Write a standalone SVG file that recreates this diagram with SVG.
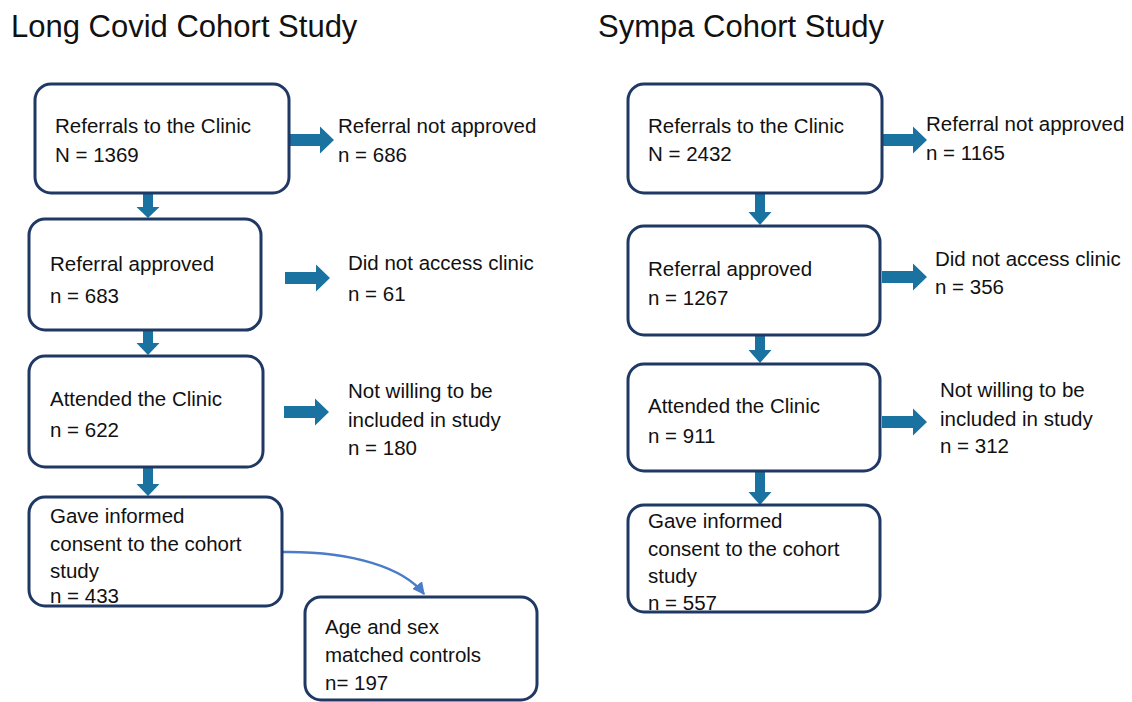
<svg xmlns="http://www.w3.org/2000/svg" xmlns:xlink="http://www.w3.org/1999/xlink" width="1132" height="702" viewBox="0 0 1132 702">
<style>
.box{fill:#fff;stroke:#1f3864;stroke-width:3}
.t{font-family:"Liberation Sans",Arial,sans-serif;font-size:20.5px;fill:#111}
.title{font-family:"Liberation Sans",Arial,sans-serif;font-size:31px;fill:#111}
.arr{fill:#19729f}
.curve{fill:none;stroke:#4a7cc8;stroke-width:2.5}
</style>
<defs>
<path id="ra" class="arr" d="M0,-6 H31 V-13.5 L45,0 L31,13.5 V6 H0 Z"/>
<marker id="mh" viewBox="0 0 10 10" refX="9" refY="5" markerWidth="5" markerHeight="5" orient="auto" markerUnits="strokeWidth">
<path d="M0,0 L10,5 L0,10 Z" fill="#4a7cc8"/>
</marker>
</defs>
<text class="title" x="11" y="37">Long Covid Cohort Study</text>
<text class="title" x="598" y="37">Sympa Cohort Study</text>
<g id="connectors">
<use href="#ra" x="289" y="140"/>
<use href="#ra" x="285" y="278"/>
<use href="#ra" x="284" y="412"/>
<use href="#ra" x="882" y="140"/>
<use href="#ra" x="882" y="277"/>
<use href="#ra" x="882" y="422"/>
<path class="arr" d="M143,194 V207 H136.5 L148,218 L159.5,207 H153 V194 Z"/>
<path class="arr" d="M143,331 V343 H136.5 L148,355 L159.5,343 H153 V331 Z"/>
<path class="arr" d="M143,468 V484 H136.5 L148,496 L159.5,484 H153 V468 Z"/>
<path class="arr" d="M755,194 V212 H748.5 L760,225 L771.5,212 H765 V194 Z"/>
<path class="arr" d="M755,336 V350 H748.5 L760,363 L771.5,350 H765 V336 Z"/>
<path class="arr" d="M755,471 V492 H748.5 L760,505 L771.5,492 H765 V471 Z"/>
<path class="curve" d="M283,552 C352,551 404,568 424,594" marker-end="url(#mh)"/>
</g>
<g id="l1"><rect class="box" x="35" y="84" width="254" height="109" rx="16"/>
<text class="t" x="55" y="133">Referrals to the Clinic</text><text class="t" x="55" y="162">N = 1369</text></g>
<g id="l1x"><text class="t" x="338" y="133">Referral not approved</text><text class="t" x="338" y="162">n = 686</text></g>
<g id="l2"><rect class="box" x="29" y="219" width="232" height="111" rx="16"/>
<text class="t" x="50" y="271">Referral approved</text><text class="t" x="50" y="303">n = 683</text></g>
<g id="l2x"><text class="t" x="348" y="270">Did not access clinic</text><text class="t" x="348" y="301">n = 61</text></g>
<g id="l3"><rect class="box" x="29" y="356" width="234" height="111" rx="16"/>
<text class="t" x="50" y="406">Attended the Clinic</text><text class="t" x="50" y="437">n = 622</text></g>
<g id="l3x"><text class="t" x="348" y="398">Not willing to be</text><text class="t" x="348" y="427">included in study</text><text class="t" x="348" y="455">n = 180</text></g>
<g id="l4"><rect class="box" x="29" y="497" width="253" height="109" rx="16"/>
<text class="t" x="50" y="523">Gave informed</text><text class="t" x="50" y="551">consent to the cohort</text><text class="t" x="50" y="578">study</text><text class="t" x="50" y="603">n = 433</text></g>
<g id="l5"><rect class="box" x="305" y="597" width="232" height="103" rx="16"/>
<text class="t" x="325" y="634">Age and sex</text><text class="t" x="325" y="662">matched controls</text><text class="t" x="325" y="690">n= 197</text></g>
<g id="r1"><rect class="box" x="628" y="84" width="254" height="109" rx="16"/>
<text class="t" x="648" y="133">Referrals to the Clinic</text><text class="t" x="648" y="161">N = 2432</text></g>
<g id="r1x"><text class="t" x="926" y="131">Referral not approved</text><text class="t" x="926" y="160">n = 1165</text></g>
<g id="r2"><rect class="box" x="628" y="226" width="252" height="109" rx="16"/>
<text class="t" x="648" y="276">Referral approved</text><text class="t" x="648" y="305">n = 1267</text></g>
<g id="r2x"><text class="t" x="935" y="266">Did not access clinic</text><text class="t" x="935" y="294">n = 356</text></g>
<g id="r3"><rect class="box" x="628" y="364" width="252" height="107" rx="16"/>
<text class="t" x="648" y="413">Attended the Clinic</text><text class="t" x="648" y="443">n = 911</text></g>
<g id="r3x"><text class="t" x="940" y="397">Not willing to be</text><text class="t" x="940" y="426">included in study</text><text class="t" x="940" y="453">n = 312</text></g>
<g id="r4"><rect class="box" x="628" y="505" width="252" height="107" rx="16"/>
<text class="t" x="648" y="528">Gave informed</text><text class="t" x="648" y="556">consent to the cohort</text><text class="t" x="648" y="583">study</text><text class="t" x="648" y="610">n = 557</text></g>
</svg>
